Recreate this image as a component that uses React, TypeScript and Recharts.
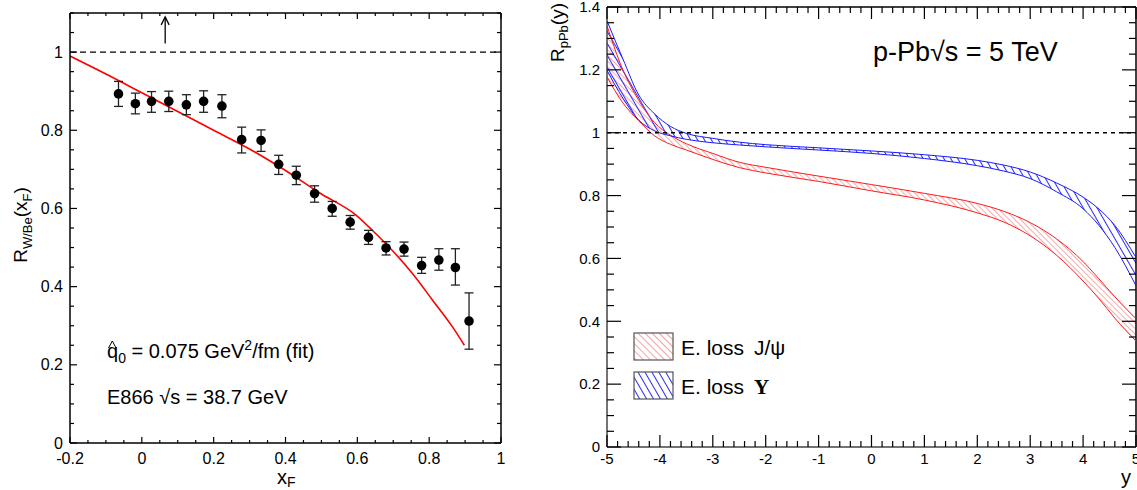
import React from 'react';
import { ComposedChart, Line, Scatter, XAxis, YAxis, ErrorBar, ReferenceLine, Area } from 'recharts';

const FONT = '"Liberation Sans", Arial, Helvetica, sans-serif';
const SERIF = '"Liberation Serif", "DejaVu Serif", serif';

// ---------------- Left panel: E866 R_W/Be(xF) ----------------
const xfPoints = [-0.065, -0.018, 0.027, 0.075, 0.124, 0.172, 0.223, 0.278, 0.332, 0.381, 0.43, 0.481, 0.53, 0.58, 0.631, 0.68, 0.73, 0.779, 0.827, 0.873, 0.911];
const rwbeValues = [0.893, 0.868, 0.874, 0.874, 0.865, 0.874, 0.862, 0.776, 0.774, 0.713, 0.685, 0.638, 0.6, 0.565, 0.526, 0.499, 0.496, 0.454, 0.468, 0.449, 0.312];
const rwbeUpper = [0.925, 0.895, 0.899, 0.9, 0.891, 0.901, 0.891, 0.808, 0.801, 0.736, 0.708, 0.658, 0.618, 0.582, 0.544, 0.515, 0.514, 0.475, 0.497, 0.497, 0.384];
const rwbeLower = [0.861, 0.842, 0.846, 0.848, 0.84, 0.846, 0.832, 0.742, 0.746, 0.687, 0.661, 0.616, 0.58, 0.547, 0.508, 0.481, 0.478, 0.434, 0.442, 0.404, 0.24];
const fitXf = [-0.2, -0.1, 0, 0.1, 0.2, 0.3, 0.4, 0.5, 0.592, 0.643, 0.698, 0.754, 0.809, 0.865, 0.898];
const fitR = [0.99, 0.944, 0.896, 0.848, 0.8, 0.752, 0.697, 0.637, 0.586, 0.543, 0.492, 0.433, 0.366, 0.297, 0.25];
const arrowXf = [0.065, 0.065];
const arrowR = [1.022, 1.09];
const xfTicks = [-0.2, 0, 0.2, 0.4, 0.6, 0.8, 1];
const rwbeTicks = [0, 0.2, 0.4, 0.6, 0.8, 1];

// ---------------- Right panel: R_pPb(y) bands ----------------
const rapidity = [-5, -4.7, -4.4, -4.1, -3.8, -3.5, -3, -2.5, -2, -1, 0, 1, 2, 2.5, 3, 3.5, 4, 4.3, 4.6, 5];
const jpsiLow = [1.177, 1.095, 1.038, 0.99, 0.963, 0.945, 0.915, 0.889, 0.872, 0.845, 0.815, 0.786, 0.745, 0.716, 0.672, 0.61, 0.528, 0.472, 0.41, 0.337];
const jpsiHigh = [1.34, 1.2, 1.103, 1.032, 0.992, 0.965, 0.934, 0.906, 0.89, 0.862, 0.835, 0.807, 0.775, 0.75, 0.714, 0.662, 0.59, 0.535, 0.478, 0.408];
const upsLow = [1.198, 1.11, 1.04, 1.006, 0.99, 0.979, 0.968, 0.961, 0.955, 0.945, 0.934, 0.918, 0.895, 0.878, 0.854, 0.812, 0.758, 0.705, 0.635, 0.513];
const upsHigh = [1.356, 1.235, 1.12, 1.06, 1.02, 0.998, 0.982, 0.97, 0.962, 0.952, 0.942, 0.93, 0.912, 0.897, 0.875, 0.84, 0.795, 0.757, 0.705, 0.603];
const rapTicks = [-5, -4, -3, -2, -1, 0, 1, 2, 3, 4, 5];
const rppbTicks = [0, 0.2, 0.4, 0.6, 0.8, 1, 1.2, 1.4];

const minorTicks = (lo: number, hi: number, step: number) => {
  const n = Math.round((hi - lo) / step);
  return Array.from({ length: n + 1 }, (_, i) => +(lo + i * step).toFixed(4));
};

const e866Data = xfPoints.map((x, i) => ({
  x,
  y: rwbeValues[i],
  err: [rwbeValues[i] - rwbeLower[i], rwbeUpper[i] - rwbeValues[i]],
}));
const fitData = fitXf.map((x, i) => ({ x, y: fitR[i] }));
const arrowData = arrowXf.map((x, i) => ({ x, y: arrowR[i] }));
const bandData = rapidity.map((r, i) => ({
  rap: r,
  jpsi: [jpsiLow[i], jpsiHigh[i]],
  jpsiLo: jpsiLow[i],
  jpsiHi: jpsiHigh[i],
  ups: [upsLow[i], upsHigh[i]],
  upsLo: upsLow[i],
  upsHi: upsHigh[i],
}));

// ---------------- layout ----------------
const L = { w: 520, h: 490, top: 13, right: 19, yAxisW: 70, xAxisH: 47 };
const R = { w: 597, h: 490, top: 7, right: 1, yAxisW: 67, xAxisH: 43 };
const edges = (c: typeof L) => ({ left: c.yAxisW, right: c.w - c.right, top: c.top, bottom: c.h - c.xAxisH });

const isIn = (arr: number[], v: number) => arr.some((m) => Math.abs(m - v) < 1e-6);

function makeXTick(majors: number[], e: any, majLen: number, minLen: number, fs: number) {
  return (props: any) => {
    const { x, y, payload } = props;
    const v = payload.value;
    const major = isIn(majors, v);
    const len = major ? majLen : minLen;
    const cx = payload.coordinate ?? x;
    return (
      <g>
        <line x1={cx} y1={e.bottom} x2={cx} y2={e.bottom - len} stroke="#000" strokeWidth={1.2} />
        <line x1={cx} y1={e.top} x2={cx} y2={e.top + len} stroke="#000" strokeWidth={1.2} />
        {major && (
          <text x={x} y={y} dy="0.71em" textAnchor="middle" fontSize={fs} fontFamily={FONT} fill="#000">
            {String(v)}
          </text>
        )}
      </g>
    );
  };
}

function makeYTick(majors: number[], e: any, majLen: number, minLen: number, fs: number) {
  return (props: any) => {
    const { x, y, payload } = props;
    const v = payload.value;
    const major = isIn(majors, v);
    const len = major ? majLen : minLen;
    const cy = payload.coordinate ?? y;
    return (
      <g>
        <line x1={e.left} y1={cy} x2={e.left + len} y2={cy} stroke="#000" strokeWidth={1.2} />
        <line x1={e.right} y1={cy} x2={e.right - len} y2={cy} stroke="#000" strokeWidth={1.2} />
        {major && (
          <text x={x} y={y} dy="0.355em" textAnchor="end" fontSize={fs} fontFamily={FONT} fill="#000">
            {String(v)}
          </text>
        )}
      </g>
    );
  };
}

const Dot = (props: any) => {
  const { cx, cy } = props;
  if (cx == null || cy == null) return null;
  return <circle cx={cx} cy={cy} r={4.8} fill="#000" />;
};

const ArrowHead = (props: any) => {
  const { cx, cy, index } = props;
  if (index !== 1 || cx == null) return <g key={'a' + index} />;
  return (
    <path key={'a' + index} d={`M${cx - 4},${cy + 8} L${cx},${cy} L${cx + 4},${cy + 8}`} stroke="#000" strokeWidth={1.3} fill="none" />
  );
};

const leftXTick = makeXTick(xfTicks, edges(L), 6, 3, 16);
const leftYTick = makeYTick(rwbeTicks, edges(L), 7, 4, 16);
const rightXTick = makeXTick(rapTicks, edges(R), 12, 6, 15);
const rightYTick = makeYTick(rppbTicks, edges(R), 14, 7, 15);

function LeftChart() {
  return (
    <div style={{ position: 'absolute', left: 0, top: 0 }}>
      <ComposedChart width={L.w} height={L.h} margin={{ top: L.top, right: L.right, left: 0, bottom: 0 }}>
        <XAxis
          xAxisId="b"
          type="number"
          dataKey="x"
          domain={[-0.2, 1]}
          allowDataOverflow
          ticks={minorTicks(-0.2, 1, 0.05)}
          interval={0}
          height={L.xAxisH}
          tickLine={false}
          tickSize={0}
          tickMargin={10}
          axisLine={{ stroke: '#000', strokeWidth: 1.5 }}
          tick={leftXTick}
        />
        <YAxis
          yAxisId="l"
          type="number"
          dataKey="y"
          domain={[0, 1.1]}
          allowDataOverflow
          ticks={minorTicks(0, 1.1, 0.05)}
          interval={0}
          width={L.yAxisW}
          tickLine={false}
          tickSize={0}
          tickMargin={7}
          axisLine={{ stroke: '#000', strokeWidth: 1.5 }}
          tick={leftYTick}
        />
        <ReferenceLine xAxisId="b" yAxisId="l" y={1.1} stroke="#000" strokeWidth={1.5} />
        <ReferenceLine xAxisId="b" yAxisId="l" x={1} stroke="#000" strokeWidth={1.5} />
        <ReferenceLine xAxisId="b" yAxisId="l" y={1} stroke="#000" strokeWidth={1.3} strokeDasharray="6 4" />
        <Line xAxisId="b" yAxisId="l" data={fitData} dataKey="y" type="monotone" stroke="#ff0000" strokeWidth={1.6} dot={false} isAnimationActive={false} />
        <Line xAxisId="b" yAxisId="l" data={arrowData} dataKey="y" type="linear" stroke="#000" strokeWidth={1.3} dot={ArrowHead} activeDot={false} isAnimationActive={false} />
        <Scatter xAxisId="b" yAxisId="l" data={e866Data} dataKey="y" shape={Dot} isAnimationActive={false}>
          <ErrorBar dataKey="err" direction="y" width={4.5} stroke="#222" strokeWidth={1.3} />
        </Scatter>
      </ComposedChart>
    </div>
  );
}

function RightChart() {
  return (
    <div style={{ position: 'absolute', left: 540, top: 0 }}>
      <ComposedChart width={R.w} height={R.h} data={bandData} margin={{ top: R.top, right: R.right, left: 0, bottom: 0 }}>
        <XAxis
          xAxisId="b"
          type="number"
          dataKey="rap"
          domain={[-5, 5]}
          allowDataOverflow
          ticks={minorTicks(-5, 5, 0.2)}
          interval={0}
          height={R.xAxisH}
          tickLine={false}
          tickSize={0}
          tickMargin={6}
          axisLine={{ stroke: '#444', strokeWidth: 1.5 }}
          tick={rightXTick}
        />
        <YAxis
          yAxisId="l"
          type="number"
          domain={[0, 1.4]}
          allowDataOverflow
          ticks={minorTicks(0, 1.4, 0.05)}
          interval={0}
          width={R.yAxisW}
          tickLine={false}
          tickSize={0}
          tickMargin={7}
          axisLine={{ stroke: '#444', strokeWidth: 1.5 }}
          tick={rightYTick}
        />
        <ReferenceLine xAxisId="b" yAxisId="l" y={1.4} stroke="#000" strokeWidth={1.5} />
        <ReferenceLine xAxisId="b" yAxisId="l" x={5} stroke="#000" strokeWidth={1.5} />
        <Area xAxisId="b" yAxisId="l" dataKey="jpsi" type="monotone" stroke="none" fill="url(#hatchRed)" fillOpacity={1} isAnimationActive={false} />
        <Line xAxisId="b" yAxisId="l" dataKey="jpsiLo" type="monotone" stroke="#ff1a1a" strokeWidth={1} dot={false} isAnimationActive={false} />
        <Line xAxisId="b" yAxisId="l" dataKey="jpsiHi" type="monotone" stroke="#ff1a1a" strokeWidth={1} dot={false} isAnimationActive={false} />
        <Area xAxisId="b" yAxisId="l" dataKey="ups" type="monotone" stroke="none" fill="url(#hatchBlue)" fillOpacity={1} isAnimationActive={false} />
        <Line xAxisId="b" yAxisId="l" dataKey="upsLo" type="monotone" stroke="#1a1aff" strokeWidth={1} dot={false} isAnimationActive={false} />
        <Line xAxisId="b" yAxisId="l" dataKey="upsHi" type="monotone" stroke="#1a1aff" strokeWidth={1} dot={false} isAnimationActive={false} />
        <ReferenceLine xAxisId="b" yAxisId="l" y={1} stroke="#000" strokeWidth={1.5} strokeDasharray="4 4" />
      </ComposedChart>
    </div>
  );
}

function Overlay() {
  return (
    <svg width={1137} height={490} style={{ position: 'absolute', left: 0, top: 0, pointerEvents: 'none' }} fontFamily={FONT}>
      {/* left annotations */}
      <path d="M108.5,348 L112.3,341 L116.1,348" stroke="#000" strokeWidth={1} fill="none" />
      <text x={107} y={358} fontSize={20} fill="#000">
        q<tspan fontSize={14} dy={5}>0</tspan>
        <tspan dy={-5}> = 0.075 GeV</tspan>
        <tspan fontSize={14} dy={-8}>2</tspan>
        <tspan dy={8}>/fm (fit)</tspan>
      </text>
      <text x={107} y={404} fontSize={20} fill="#000">E866 √s = 38.7 GeV</text>
      <text transform="translate(27,225) rotate(-90)" textAnchor="middle" fontSize={19} fill="#000">
        R<tspan fontSize={13} dy={5}>W/Be</tspan>
        <tspan dy={-5}>(x</tspan>
        <tspan fontSize={13} dy={5}>F</tspan>
        <tspan dy={-5}>)</tspan>
      </text>
      <text x={277} y={484} fontSize={20} fill="#000">
        x<tspan fontSize={14} dy={3}>F</tspan>
      </text>

      {/* right annotations */}
      <text x={873} y={61} fontSize={27} fill="#000">p-Pb√s = 5 TeV</text>
      <text transform="translate(564,3) rotate(-90)" textAnchor="end" fontSize={19} fill="#000">
        R<tspan fontSize={13} dy={4}>pPb</tspan>
        <tspan dy={-4}>(y)</tspan>
      </text>
      <text x={1121} y={484} fontSize={20} fill="#000">y</text>

      {/* legend */}
      <rect x={634} y={333} width={39} height={27} fill="url(#hatchRedLeg)" stroke="#555" strokeWidth={1.2} />
      <text x={681} y={355} fontSize={21} fill="#000">E. loss</text>
      <text x={754} y={355} fontSize={21} fill="#000">J/ψ</text>
      <rect x={634} y={372} width={39} height={27} fill="url(#hatchBlueLeg)" stroke="#555" strokeWidth={1.2} />
      <text x={681} y={394} fontSize={21} fill="#000">E. loss</text>
      <text x={754} y={394} fontSize={21} fontFamily={SERIF} fontWeight="bold" fill="#000">Υ</text>
    </svg>
  );
}

function Patterns() {
  return (
    <svg width={0} height={0} style={{ position: 'absolute', left: 0, top: 0 }}>
      <defs>
        <pattern id="hatchRed" patternUnits="userSpaceOnUse" width={4} height={4} patternTransform="rotate(-45)">
          <line x1={0.5} y1={0} x2={0.5} y2={4} stroke="#f6a3a3" strokeWidth={0.9} />
        </pattern>
        <pattern id="hatchBlue" patternUnits="userSpaceOnUse" width={6} height={6} patternTransform="rotate(-30)">
          <line x1={0.5} y1={0} x2={0.5} y2={6} stroke="#2a2aff" strokeWidth={1} />
        </pattern>
        <pattern id="hatchRedLeg" patternUnits="userSpaceOnUse" width={5} height={5} patternTransform="rotate(-45)">
          <line x1={0.5} y1={0} x2={0.5} y2={5} stroke="#f6a3a3" strokeWidth={1} />
        </pattern>
        <pattern id="hatchBlueLeg" patternUnits="userSpaceOnUse" width={6} height={6} patternTransform="rotate(-30)">
          <line x1={0.5} y1={0} x2={0.5} y2={6} stroke="#2a2aff" strokeWidth={1} />
        </pattern>
      </defs>
    </svg>
  );
}

export default function App() {
  return (
    <div style={{ position: 'absolute', left: 0, top: 0, width: 1137, height: 490, background: '#fff', fontFamily: FONT }}>
      <Patterns />
      <LeftChart />
      <RightChart />
      <Overlay />
    </div>
  );
}
